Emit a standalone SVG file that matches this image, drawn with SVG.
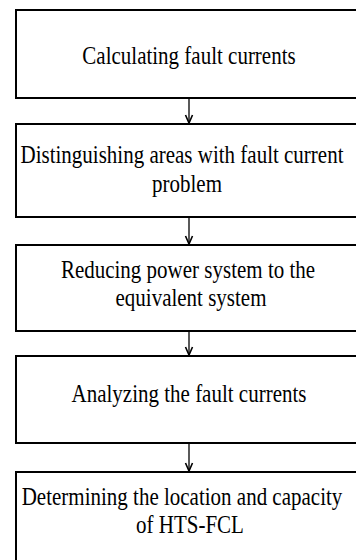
<svg xmlns="http://www.w3.org/2000/svg" width="356" height="560" viewBox="0 0 356 560">
<defs>
<style>
.box{fill:#fff;stroke:#000;stroke-width:2}
.c{stroke:#000;stroke-width:1.3;fill:none}
</style>
<marker id="ah" markerWidth="10" markerHeight="10" refX="9" refY="5" orient="auto" markerUnits="userSpaceOnUse" viewBox="0 0 10 10">
<path d="M1,1.5 L9,5 L1,8.5" fill="none" stroke="#000" stroke-width="1.6"/>
</marker>
</defs>
<rect width="356" height="560" fill="#fff"/>
<g id="connectors">
<line class="c" x1="189" y1="99" x2="189" y2="123" marker-end="url(#ah)"/>
<line class="c" x1="189" y1="218" x2="189" y2="244" marker-end="url(#ah)"/>
<line class="c" x1="189" y1="332" x2="189" y2="355" marker-end="url(#ah)"/>
<line class="c" x1="189" y1="444" x2="189" y2="471" marker-end="url(#ah)"/>
</g>
<g font-family="'Liberation Serif', 'Times New Roman', serif" font-size="25" fill="#000" text-anchor="middle">
<g id="n1">
<rect class="box" x="16" y="10" width="346" height="88"/>
<text transform="translate(189,64) scale(0.84,1)">Calculating fault currents</text>
</g>
<g id="n2">
<rect class="box" x="16" y="124" width="346" height="93"/>
<text transform="translate(182,163) scale(0.84,1)">Distinguishing areas with fault current</text>
<text transform="translate(187,192) scale(0.84,1)">problem</text>
</g>
<g id="n3">
<rect class="box" x="16" y="245" width="346" height="86"/>
<text transform="translate(188,278) scale(0.84,1)">Reducing power system to the</text>
<text transform="translate(191,306) scale(0.84,1)">equivalent system</text>
</g>
<g id="n4">
<rect class="box" x="16" y="356" width="346" height="87"/>
<text transform="translate(189,402) scale(0.84,1)">Analyzing the fault currents</text>
</g>
<g id="n5">
<rect class="box" x="16" y="472" width="346" height="100"/>
<text transform="translate(182,505) scale(0.84,1)">Determining the location and capacity</text>
<text transform="translate(190,533) scale(0.84,1)">of HTS-FCL</text>
</g>
</g>
</svg>
